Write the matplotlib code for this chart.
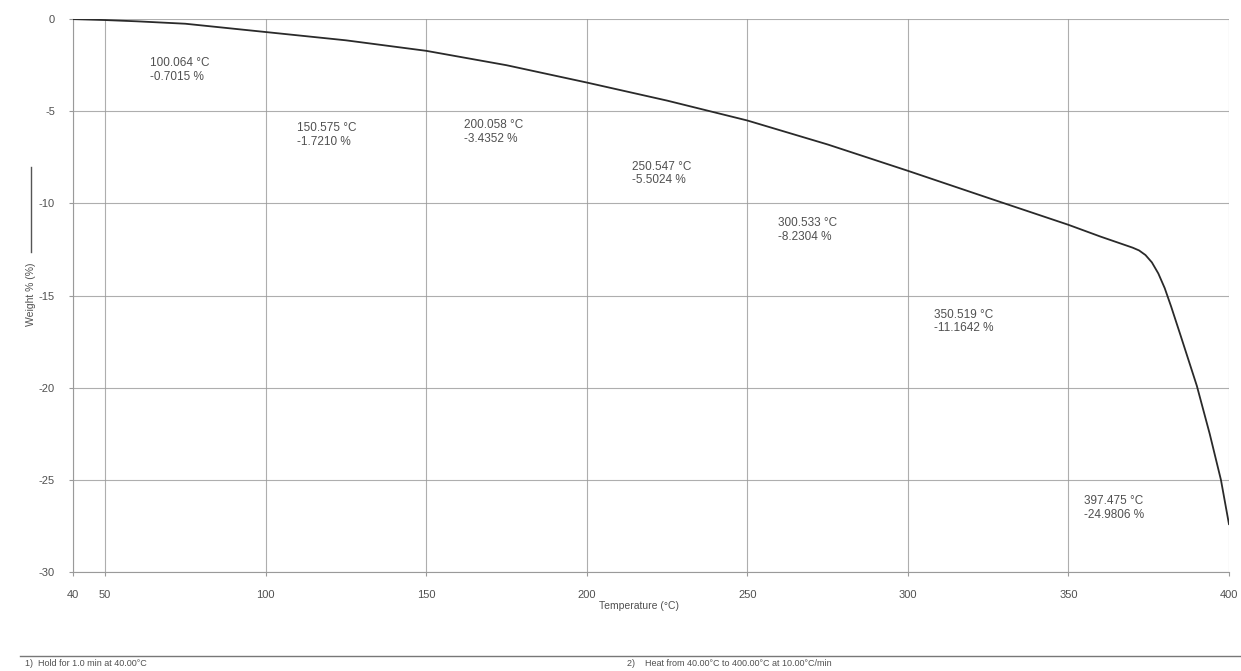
"""
plot.py — TGA curve (weight % vs temperature), redrawn from a scanned printout
"""

import matplotlib
matplotlib.use("Agg")
import matplotlib.pyplot as plt
from matplotlib.lines import Line2D

plt.rcParams["font.family"] = ["Liberation Sans", "DejaVu Sans"]
plt.rcParams["axes.unicode_minus"] = False

# ─────────────────────────────────────────────────────────────
# Data
# ─────────────────────────────────────────────────────────────
temperature = [40, 50, 60, 75, 100, 125, 150, 175, 200, 225, 250, 275, 300,
               325, 350, 360, 365, 370, 372, 374, 376, 378, 380, 382, 385,
               390, 394, 397.5, 400]
weight = [0.0, -0.05, -0.12, -0.25, -0.70, -1.15, -1.72, -2.50, -3.44, -4.42,
          -5.50, -6.80, -8.23, -9.70, -11.16, -11.8, -12.1, -12.4, -12.55,
          -12.8, -13.2, -13.8, -14.6, -15.6, -17.2, -19.9, -22.5, -25.0, -27.4]

mark_temp = ["100.064", "150.575", "200.058", "250.547", "300.533", "350.519", "397.475"]
mark_weight = ["-0.7015", "-1.7210", "-3.4352", "-5.5024", "-8.2304", "-11.1642", "-24.9806"]

x_ticks = [40, 50, 100, 150, 200, 250, 300, 350, 400]
y_ticks = [0, -5, -10, -15, -20, -25, -30]

footer_1 = "1)  Hold for 1.0 min at 40.00°C"
footer_2 = "2)    Heat from 40.00°C to 400.00°C at 10.00°C/min"

# label positions (data coords of left/middle of each label)
label_pos = [(64.0, -2.77), (109.7, -6.29), (161.9, -6.13), (214.2, -8.36),
             (259.6, -11.45), (308.1, -16.39), (354.8, -26.53)]

TXT = "#505050"
GRID = "#9a9a9a"

# ─────────────────────────────────────────────────────────────
# Figure
# ─────────────────────────────────────────────────────────────
fig = plt.figure(figsize=(12.41, 6.71), dpi=100)
ax = fig.add_axes([0.0588, 0.1475, 0.9315, 0.824])

ax.plot(temperature, weight, color="#2a2a2a", linewidth=1.3, zorder=3)

ax.set_xlim(40, 400)
ax.set_ylim(-30, 0)
ax.set_xticks(x_ticks)
ax.set_yticks(y_ticks)
ax.grid(True, color=GRID, linewidth=0.8, alpha=0.8)
ax.tick_params(axis="both", colors=GRID, labelcolor=TXT, labelsize=8,
               length=3, pad=10)

for side in ["top", "right"]:
    ax.spines[side].set_visible(False)
for side in ["left", "bottom"]:
    ax.spines[side].set_color(GRID)
    ax.spines[side].set_linewidth(0.8)

ax.set_xlabel("Temperature (°C)", fontsize=7.5, color=TXT, labelpad=2)
ax.xaxis.set_label_coords(0.49, -0.052)

for (lx, ly), t, w in zip(label_pos, mark_temp, mark_weight):
    ax.text(lx, ly, f"{t} °C\n{w} %", fontsize=8.5, color=TXT,
            ha="left", va="center", linespacing=1.15)

# y label with legend line segment
fig.add_artist(Line2D([0.025, 0.025], [0.751, 0.624], color="#555555",
                      linewidth=1.0, transform=fig.transFigure))
fig.text(0.025, 0.562, "Weight % (%)", rotation=90, fontsize=7.5,
         color=TXT, ha="center", va="center")

# footer
fig.add_artist(Line2D([0.016, 1.0], [0.0224, 0.0224], color="#777777",
                      linewidth=1.0, transform=fig.transFigure))
fig.text(0.02, 0.0105, footer_1, fontsize=6.5, color=TXT, va="center")
fig.text(0.505, 0.0105, footer_2, fontsize=6.5, color=TXT, va="center")

plt.savefig("out.png", dpi=100)
plt.close()
